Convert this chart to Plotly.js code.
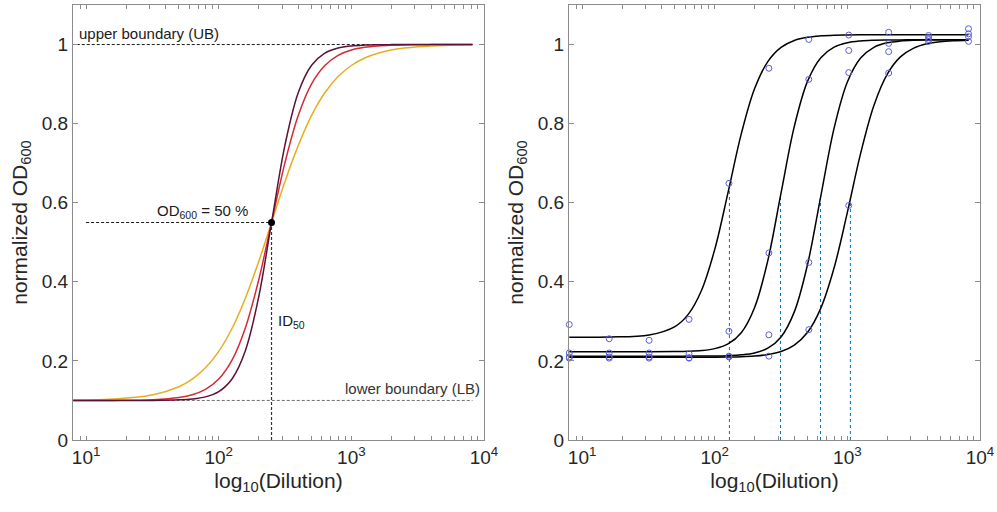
<!DOCTYPE html>
<html>
<head>
<meta charset="utf-8">
<script src="https://cdn.plot.ly/plotly-3.0.1.min.js"></script>
<style>html,body{margin:0;padding:0;background:#fff}#chart{width:997px;height:512px}</style>
</head>
<body>
<div id="chart"></div>
<script>
// ---------- data ----------
// dilution grid on which the fitted curves were read off the picture
const curveDilution = [8, 16, 32, 50.1, 63.1, 79.4, 100, 125.9, 158.5, 199.5, 251.2, 316.2, 398.1, 501.2, 631, 794.3, 1000, 1258.9, 1584.9, 1995.3, 2511.9, 3162.3, 3981, 5011.9, 6309.6, 8192];

// left panel: theoretical dose-response curves (three hill slopes)
const curveShallow = [0.1009, 0.1037, 0.1145, 0.1347, 0.1539, 0.1825, 0.2242, 0.282, 0.358, 0.450, 0.552, 0.654, 0.745, 0.821, 0.878, 0.919, 0.947, 0.966, 0.978, 0.986, 0.991, 0.9944, 0.9965, 0.9978, 0.9986, 0.9992];
const curveMedium  = [0.1000, 0.1002, 0.1019, 0.1072, 0.1142, 0.128, 0.1541, 0.2019, 0.2826, 0.403, 0.553, 0.702, 0.821, 0.9006, 0.947, 0.9727, 0.9861, 0.993, 0.9965, 0.9982, 0.9991, 0.9996, 0.9998, 0.9999, 0.9999, 1.0];
const curveSteep   = [0.1, 0.1, 0.1002, 0.1015, 0.1036, 0.1091, 0.1224, 0.1544, 0.2251, 0.3597, 0.554, 0.747, 0.8789, 0.9475, 0.9783, 0.9913, 0.9965, 0.9986, 0.9994, 0.9998, 1.0, 1.0, 1.0, 1.0, 1.0, 1.0];

const lowerBoundary = 0.1;
const upperBoundary = 1.0;
const boundaryRange = [8.5, 8192];
const id50 = 250;
const od50 = 0.55;
const od50LineStart = 10;

// right panel: measured samples and their fits
const sampleDilution = [8, 16, 32, 64, 128, 256, 512, 1024, 2048, 4096, 8192];
const sample1 = [0.292, 0.256, 0.252, 0.305, 0.649, 0.940, 1.013, 1.024, 1.031, 1.023, 1.040];
const sample2 = [0.220, 0.220, 0.220, 0.218, 0.275, 0.473, 0.912, 0.985, 1.003, 1.018, 1.027];
const sample3 = [0.210, 0.210, 0.210, 0.208, 0.212, 0.266, 0.449, 0.929, 0.982, 1.013, 1.020];
const sample4 = [0.207, 0.207, 0.207, 0.207, 0.210, 0.212, 0.279, 0.593, 0.928, 1.008, 1.008];

const fit1 = [0.2600, 0.2605, 0.2657, 0.2869, 0.3177, 0.3781, 0.482, 0.6255, 0.774, 0.888, 0.957, 0.993, 1.0104, 1.0184, 1.0220, 1.0237, 1.0244, 1.0247, 1.0249, 1.025, 1.025, 1.025, 1.025, 1.025, 1.025, 1.025];
const fit2 = [0.2230, 0.2230, 0.2231, 0.2235, 0.2243, 0.2262, 0.2311, 0.2430, 0.2714, 0.3344, 0.4536, 0.6248, 0.7932, 0.9075, 0.9668, 0.9934, 1.0045, 1.0090, 1.0108, 1.0115, 1.0118, 1.0119, 1.0120, 1.0120, 1.0120, 1.0120];
const fit3 = [0.2120, 0.2120, 0.2120, 0.2120, 0.2121, 0.2122, 0.2125, 0.2133, 0.2153, 0.2201, 0.2322, 0.2607, 0.3240, 0.4443, 0.6175, 0.7886, 0.9051, 0.9658, 0.9930, 1.0043, 1.0089, 1.0108, 1.0115, 1.0119, 1.0119, 1.0120];
const fit4 = [0.2090, 0.2090, 0.2090, 0.2090, 0.2091, 0.2092, 0.2093, 0.2097, 0.2105, 0.2123, 0.2160, 0.2238, 0.2400, 0.2725, 0.3336, 0.4354, 0.5755, 0.7248, 0.8460, 0.9247, 0.9687, 0.9911, 1.0021, 1.0073, 1.0098, 1.0111];

const fitID50 = [129, 313, 627, 1054];
const fitMid  = [0.643, 0.618, 0.612, 0.611];

// axis ticks
const majorTicks = [10, 100, 1000, 10000];
const majorLabels = ['10<sup>1</sup>', '10<sup>2</sup>', '10<sup>3</sup>', '10<sup>4</sup>'];
const minorTicks = [8, 9, 20, 30, 40, 50, 60, 70, 80, 90, 200, 300, 400, 500, 600, 700, 800, 900, 2000, 3000, 4000, 5000, 6000, 7000, 8000, 9000];
const yTicks = [0, 0.2, 0.4, 0.6, 0.8, 1];
const yLabels = ['0', '0.2', '0.4', '0.6', '0.8', '1'];

// ---------- drawing ----------
const FONT = 'Liberation Sans, Arial, sans-serif';
const TXT = '#262626';
const AX = '#8c8c8c';

const traces = [];
const dashBlack = {color: '#1a1a1a', width: 1, dash: '3px,2px'};

// left panel guide lines
traces.push({x: boundaryRange, y: [upperBoundary, upperBoundary], xaxis: 'x', yaxis: 'y', mode: 'lines', line: dashBlack, hoverinfo: 'skip'});
traces.push({x: boundaryRange, y: [lowerBoundary, lowerBoundary], xaxis: 'x', yaxis: 'y', mode: 'lines', line: {color: '#6e6e6e', width: 1, dash: '3px,2px'}, hoverinfo: 'skip'});
traces.push({x: [od50LineStart, id50], y: [od50, od50], xaxis: 'x', yaxis: 'y', mode: 'lines', line: dashBlack, hoverinfo: 'skip'});
traces.push({x: [id50, id50], y: [0, od50], xaxis: 'x', yaxis: 'y', mode: 'lines', line: {color: '#333', width: 1.2, dash: '3px,2px'}, hoverinfo: 'skip'});

// left panel curves
traces.push({x: curveDilution, y: curveShallow, xaxis: 'x', yaxis: 'y', mode: 'lines', line: {color: '#e9ad22', width: 1.5, shape: 'spline'}});
traces.push({x: curveDilution, y: curveMedium, xaxis: 'x', yaxis: 'y', mode: 'lines', line: {color: '#d42a35', width: 1.5, shape: 'spline'}});
traces.push({x: curveDilution, y: curveSteep, xaxis: 'x', yaxis: 'y', mode: 'lines', line: {color: '#5a1236', width: 1.5, shape: 'spline'}});
traces.push({x: [id50], y: [od50], xaxis: 'x', yaxis: 'y', mode: 'markers', marker: {color: '#000', size: 7}});

// right panel ID50 lines
for (let i = 0; i < fitID50.length; i++) {
  traces.push({x: [fitID50[i], fitID50[i]], y: [0, fitMid[i]], xaxis: 'x2', yaxis: 'y2', mode: 'lines', line: {color: '#0072BD', width: 1, dash: '3px,3px'}, hoverinfo: 'skip'});
}
// right panel fits
[fit1, fit2, fit3, fit4].forEach(f => {
  traces.push({x: curveDilution, y: f, xaxis: 'x2', yaxis: 'y2', mode: 'lines', line: {color: '#000', width: 1.5, shape: 'spline'}});
});
// right panel samples
[sample1, sample2, sample3, sample4].forEach(s => {
  traces.push({x: sampleDilution, y: s, xaxis: 'x2', yaxis: 'y2', mode: 'markers', cliponaxis: false, marker: {symbol: 'circle-open', color: '#5c5cd6', size: 6, line: {width: 1}}});
});

function xAxis(domain, anchor) {
  return {
    type: 'log', domain: domain, anchor: anchor,
    range: [Math.log10(8) - 0.002, 4],
    tickmode: 'array',
    tickvals: majorTicks.concat(minorTicks),
    ticktext: majorLabels.concat(minorTicks.map(() => '')),
    ticks: 'inside', ticklen: 4, tickcolor: AX, tickwidth: 1,
    showline: true, linecolor: AX, linewidth: 1, mirror: 'ticks',
    showgrid: false, zeroline: false,
    tickfont: {family: FONT, size: 19, color: TXT},
    title: {text: 'log<sub>10</sub>(Dilution)', font: {family: FONT, size: 21, color: TXT}, standoff: 6}
  };
}
function yAxis(anchor) {
  return {
    domain: [72 / 512, 507 / 512], anchor: anchor,
    range: [0, 1.1],
    tickmode: 'array', tickvals: yTicks, ticktext: yLabels,
    ticks: 'inside', ticklen: 5, tickcolor: AX, tickwidth: 1,
    showline: true, linecolor: AX, linewidth: 1, mirror: 'ticks',
    showgrid: false, zeroline: false,
    tickfont: {family: FONT, size: 19, color: TXT},
    title: {text: 'normalized OD<sub>600</sub>', font: {family: FONT, size: 21, color: TXT}, standoff: 8}
  };
}

const annFont = {family: FONT, size: 15, color: '#1a1a1a'};
const layout = {
  width: 997, height: 512,
  margin: {l: 0, r: 0, t: 0, b: 0},
  paper_bgcolor: '#fff', plot_bgcolor: '#fff',
  showlegend: false,
  xaxis: xAxis([73 / 997, 484 / 997], 'y'),
  yaxis: yAxis('x'),
  xaxis2: xAxis([569 / 997, 980 / 997], 'y2'),
  yaxis2: yAxis('x2'),
  annotations: [
    {xref: 'x', yref: 'y', x: Math.log10(8.6), y: upperBoundary, xanchor: 'left', yanchor: 'bottom', yshift: 1, text: 'upper boundary (UB)', showarrow: false, font: annFont},
    {xref: 'x', yref: 'y', x: Math.log10(75), y: od50, xanchor: 'center', yanchor: 'bottom', yshift: 0, text: 'OD<sub>600</sub> = 50 %', showarrow: false, font: annFont},
    {xref: 'x', yref: 'y', x: Math.log10(id50), y: 0.30, xanchor: 'left', yanchor: 'middle', xshift: 4, text: 'ID<sub>50</sub>', showarrow: false, font: annFont},
    {xref: 'x', yref: 'y', x: Math.log10(9700), y: lowerBoundary, xanchor: 'right', yanchor: 'bottom', yshift: 1, text: 'lower boundary (LB)', showarrow: false, font: {family: FONT, size: 15, color: '#333'}}
  ]
};

Plotly.newPlot('chart', traces, layout, {displayModeBar: false, staticPlot: true});
</script>
</body>
</html>
